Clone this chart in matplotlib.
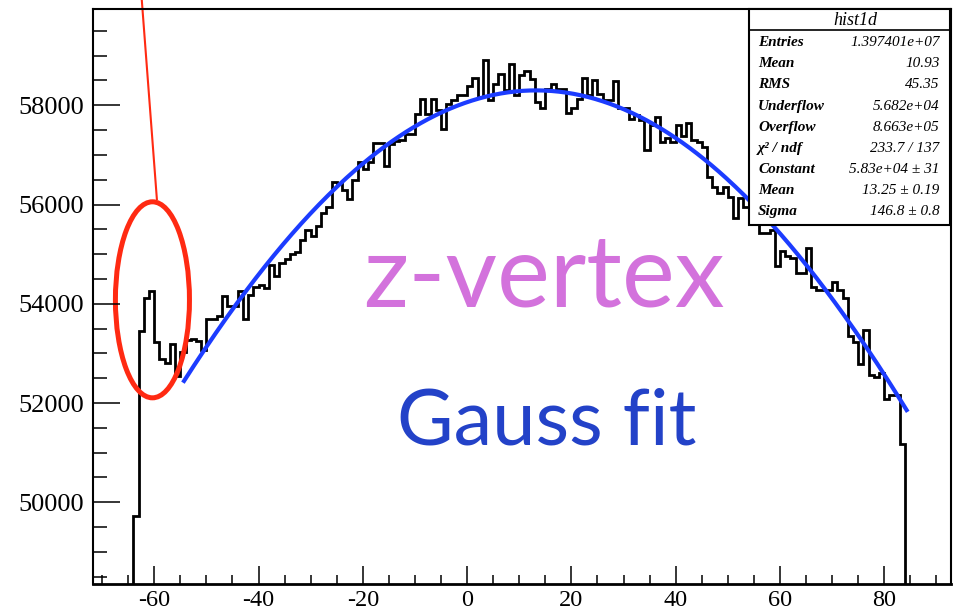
import numpy as np
import matplotlib
matplotlib.use('Agg')
import matplotlib.pyplot as plt
from matplotlib.patches import Ellipse, Rectangle
from matplotlib.ticker import MultipleLocator, FixedLocator

plt.rcParams['axes.unicode_minus'] = False

# z-vertex histogram, 1 unit bins starting at -64
bin_start = -64
counts = [
    49725, 53457, 54114, 54261, 53230, 52894, 52808, 53190, 52539, 53030,   # -64..-55
    53270, 53300, 53243, 53075, 53685, 53700, 53745, 54160, 53946, 53946,   # -54..-45
    54267, 53700, 54180, 54330, 54380, 54328, 54784, 54563, 54818, 54904,   # -44..-35
    55005, 55039, 55286, 55487, 55373, 55568, 55823, 55943, 56458, 56426,   # -34..-25
    56291, 56104, 56492, 56860, 56707, 56860, 57230, 57230, 56774, 57216,   # -24..-15
    57290, 57310, 57430, 57430, 57819, 58134, 57833, 58134, 57899, 57517,   # -14..-5
    58034, 58114, 58215, 58215, 58382, 58550, 58167, 58904, 58114, 58436,   # -4..5
    58623, 58315, 58838, 58215, 58603, 58690, 58536, 58066, 57953, 58335,   # 6..15
    58422, 58335, 58335, 57846, 57953, 58134, 58550, 58215, 58516, 58235,   # 16..25
    58114, 58114, 58489, 57950, 57950, 57720, 57800, 57700, 57090, 57600,   # 26..35
    57760, 57262, 57350, 57270, 57600, 57380, 57640, 57300, 57250, 57162,   # 36..45
    56559, 56358, 56240, 56358, 56150, 55722, 56140, 55956, 56380, 55960,   # 46..55
    55420, 55420, 55487, 54761, 55070, 54963, 54917, 54614, 54614, 55118,   # 56..65
    54344, 54277, 54277, 54277, 54433, 54277, 54123, 53357, 53236, 52787,   # 66..75
    53472, 52565, 52519, 52611, 52081, 52162, 52162, 51175,                 # 76..83
]

# fit result (gaus) and its range
fit_const, fit_mean, fit_sigma = 5.83e4, 13.25, 146.8
fit_range = (-54.5, 84.5)

stat_labels = ['Entries', 'Mean', 'RMS', 'Underflow', 'Overflow', 'χ² / ndf',
               'Constant', 'Mean', 'Sigma']
stat_values = ['1.397401e+07', '10.93', '45.35', '5.682e+04', '8.663e+05',
               '233.7 / 137', '5.83e+04 ± 31', '13.25 ± 0.19', '146.8 ± 0.8']

# annotation (red ellipse + pointer line)
ell_center = (-60.35, 54080)
ell_size = (14.2, 3950)
pointer_x = [-62.4, -59.5]
pointer_y = [60130, 56110]

edges = np.arange(bin_start, bin_start + len(counts) + 1)

fig = plt.figure(figsize=(9.61, 6.12), dpi=100)
ax = fig.add_axes([0.0965, 0.0458, 0.8931, 0.9403])

ax.stairs(counts, edges, baseline=0, color='black', lw=2.0)

xs = np.linspace(fit_range[0], fit_range[1], 400)
ax.plot(xs, fit_const * np.exp(-0.5 * ((xs - fit_mean) / fit_sigma) ** 2),
        color='#1c3cff', lw=3.0, solid_capstyle='butt')

ax.set_xlim(-71.8, 92.8)
ax.set_ylim(48354, 59950)

ax.xaxis.set_major_locator(MultipleLocator(20))
ax.xaxis.set_minor_locator(MultipleLocator(5))
ax.yaxis.set_major_locator(FixedLocator([50000, 52000, 54000, 56000, 58000]))
ax.yaxis.set_minor_locator(MultipleLocator(500))
ax.tick_params(axis='both', which='both', direction='in', top=False, right=False,
               width=1.1)
ax.tick_params(axis='y', which='major', length=19.5, pad=6, labelsize=19)
ax.tick_params(axis='y', which='minor', length=10)
ax.tick_params(axis='x', which='major', length=13, pad=4, labelsize=17.5)
ax.tick_params(axis='x', which='minor', length=6.5)
for lab in ax.get_xticklabels() + ax.get_yticklabels():
    lab.set_fontfamily('Liberation Serif')
for sp in ax.spines.values():
    sp.set_linewidth(1.5)
ax.spines['bottom'].set_linewidth(2.0)

# red annotation
ax.add_patch(Ellipse(ell_center, ell_size[0], ell_size[1], fill=False,
                     ec='#ff2a12', lw=3.6))
ax.plot(pointer_x, pointer_y, color='#ff2a12', lw=1.5, clip_on=False)

ax.text(14.7, 53955, 'z-vertex', color='#d372dc', fontsize=72,
        family='Lato', ha='center', va='baseline')
ax.text(15.3, 51155, 'Gauss fit', color='#2342c8', fontsize=56,
        family='Lato', ha='center', va='baseline')

# stats box (figure pixel coordinates converted to fractions)
W, H = 961.0, 612.0
bx0, bx1, by_top, by_bot, by_sep = 749, 950, 9, 225, 29.5
fig.patches.append(Rectangle((bx0 / W, 1 - by_bot / H), (bx1 - bx0) / W,
                             (by_bot - by_top) / H, transform=fig.transFigure,
                             fc='white', ec='black', lw=1.5, zorder=5))
fig.lines.append(plt.Line2D([bx0 / W, bx1 / W], [1 - by_sep / H, 1 - by_sep / H],
                            transform=fig.transFigure, color='black', lw=1.2, zorder=6))
fig.text(855 / W, 1 - 20.5 / H, 'hist1d', family='Liberation Serif', style='italic',
         fontsize=13, ha='center', va='center', zorder=7)
for i, (lab, val) in enumerate(zip(stat_labels, stat_values)):
    yy = 1 - (42.7 + 21.1 * i) / H
    fig.text(758 / W, yy, lab, family='Liberation Serif', style='italic',
             weight='bold', fontsize=11, ha='left', va='center', zorder=7)
    fig.text(939.5 / W, yy, val, family='Liberation Serif', style='italic',
             fontsize=11, ha='right', va='center', zorder=7)

fig.savefig('out.png', dpi=100)
